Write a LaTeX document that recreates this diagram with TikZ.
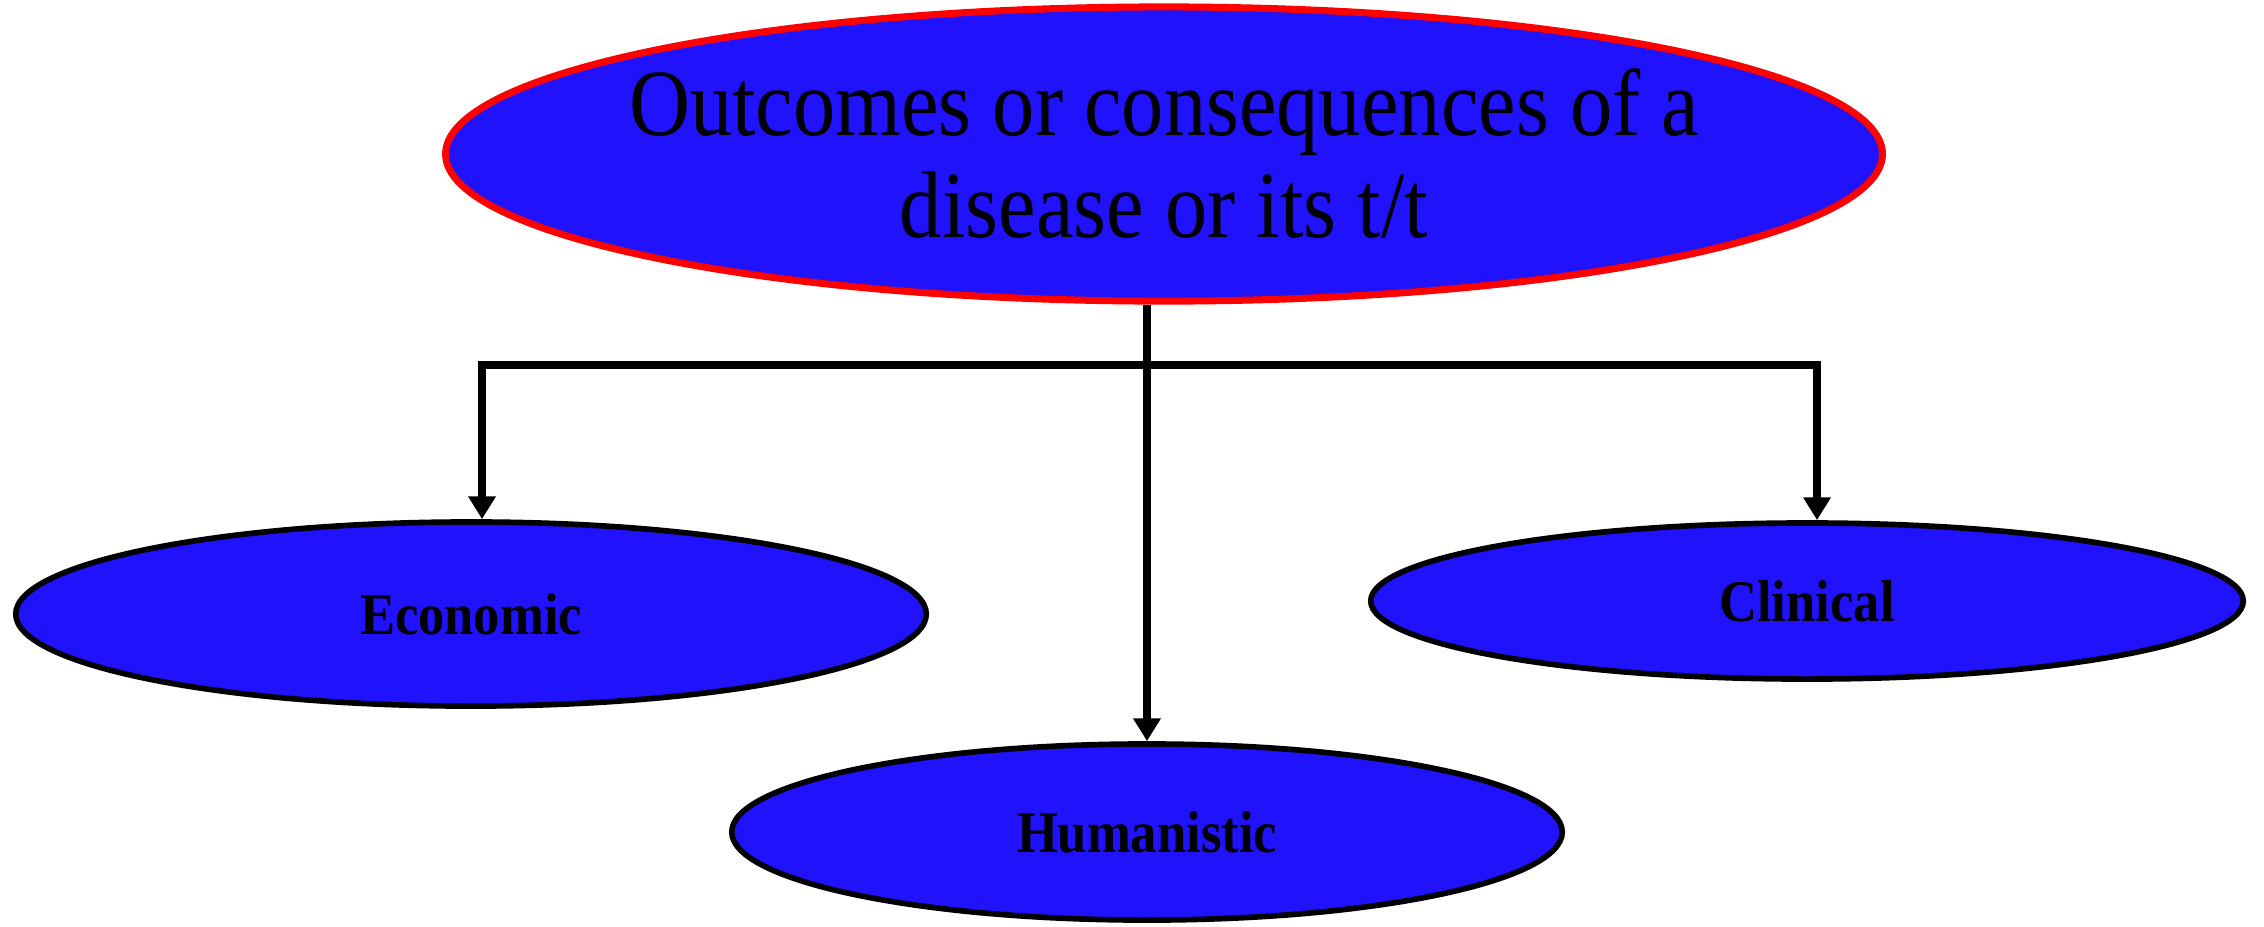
\documentclass[tikz,border=0pt]{standalone}
\usepackage{fontspec}
\setmainfont{Liberation Serif}
\newfontfamily\narrowserif[FakeStretch=0.89]{Liberation Serif}
\usepackage{xcolor}
\usetikzlibrary{arrows.meta,shapes.geometric,positioning,calc}
\definecolor{blobblue}{RGB}{32,18,250}

\begin{document}
\begin{tikzpicture}[x=0.01cm,y=-0.01cm,
  blob/.style={ellipse,draw=black,line width=1.6pt,fill=blobblue,inner sep=0pt,
    font=\narrowserif\fontsize{16.8}{18}\selectfont\bfseries},
  headblob/.style={blob,draw=red,line width=2pt,inner xsep=-0.6cm,align=center,
    font=\narrowserif\fontsize{27}{29}\selectfont},
  link/.style={line width=2.2pt,-{Triangle[width=7.5pt,length=6.5pt]}},
  bar/.style={line width=2.2pt,line cap=rect}]
  % Frame
  \useasboundingbox (0,0) rectangle (2264,926);

  % Ellipses
  \node[headblob,minimum width=14.36cm,minimum height=2.94cm] (head) at (1164,154)
    {Outcomes or consequences of a\\disease or its t/t};
  \node[blob,minimum width=9.1cm,minimum height=1.84cm] (econ) at (471,614) {Economic};
  \node[blob,minimum width=8.72cm,minimum height=1.56cm] (clin) at (1807,601) {Clinical};
  \node[blob,minimum width=8.3cm,minimum height=1.76cm] (hum) at (1147,832) {Humanistic};

  % Branches
  \coordinate (lbar) at (482,365);
  \coordinate (rbar) at (1817,365);
  \draw[bar] (lbar) -- (rbar);
  \draw[link] (head.south -| hum.north) -- (hum.north);
  \draw[link] (lbar) -- (lbar |- econ.north);
  \draw[link] (rbar) -- (rbar |- clin.north);
\end{tikzpicture}
\end{document}
